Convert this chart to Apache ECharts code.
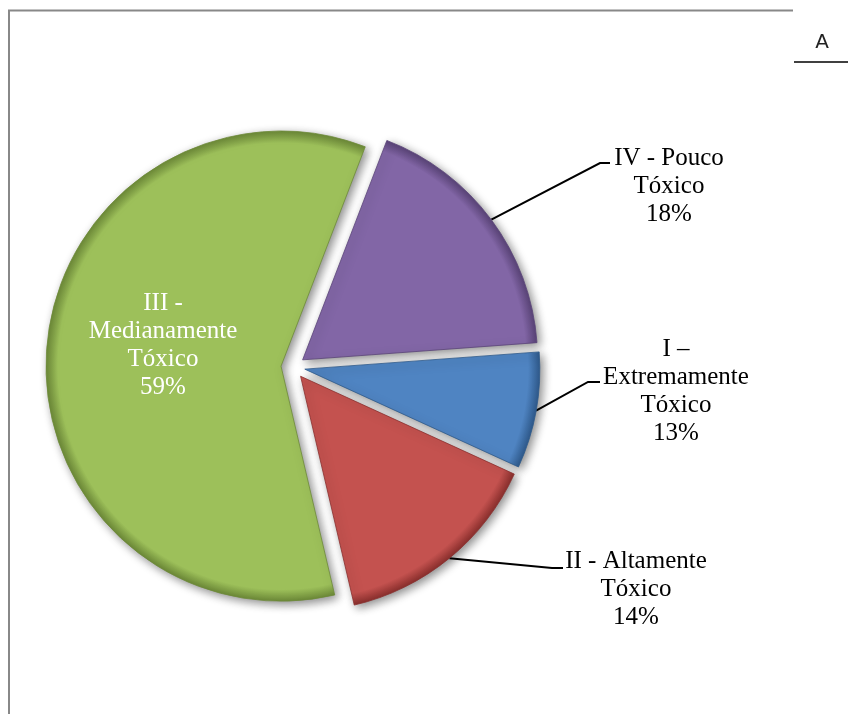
<!DOCTYPE html>
<html>
<head>
<meta charset="utf-8">
<script src="https://cdn.jsdelivr.net/npm/echarts@6/dist/echarts.min.js"></script>
<style>
html,body{margin:0;padding:0;background:#fff;}
#chart{width:848px;height:714px;}
</style>
</head>
<body>
<div id="chart"></div>
<script>
// Categories in clockwise drawing order
const categories = ['IV - Pouco Tóxico', 'I – Extremamente Tóxico', 'II - Altamente Tóxico', 'III - Medianamente Tóxico'];
// Label text lines (as printed on the chart)
const labelTexts = [['IV - Pouco', 'Tóxico'], ['I –', 'Extremamente', 'Tóxico'], ['II - Altamente', 'Tóxico'], ['III -', 'Medianamente', 'Tóxico']];
// Slice sizes as drawn
const sliceValues = [18, 8, 14.5, 59.5];
// Percent labels as printed
const percentLabels = ['18%', '13%', '14%', '59%'];
const sliceColors = ['#8266A6', '#4F84C2', '#C4524F', '#9DC05A'];
const rimColors = ['#5a4478', '#2f5a8c', '#8a2f2d', '#6d8a38'];

// label placement: [x, y, bendX, bendY, endX]
const labelPlace = [
  [669, 186, 600, 163, 610],
  [676, 391, 588, 382, 600],
  [636, 589, 552, 568, 563],
  [163, 345]
];

const CX = 293, CY = 367, R = 235, EXPLODE = 12;

const chart = echarts.init(document.getElementById('chart'));

function rimGradient(i) {
  return {
    type: 'radial', x: CX, y: CY, r: R, global: true,
    colorStops: [
      {offset: 0, color: sliceColors[i]},
      {offset: 0.95, color: sliceColors[i]},
      {offset: 1, color: rimColors[i]}
    ]
  };
}

const pieData = categories.map((c, i) => ({
  name: c,
  value: sliceValues[i],
  selected: true,
  itemStyle: {color: rimGradient(i), borderColor: rimColors[i]}
}));

const labelData = categories.map((c, i) => ({
  name: c,
  value: sliceValues[i],
  label: i === 3 ? {position: 'inside', color: '#ffffff'} : {position: 'outside', color: '#000000'},
  labelLine: {show: i !== 3}
}));

chart.setOption({
  animation: false,
  graphic: [
    {type: 'line', shape: {x1: 8, y1: 10.5, x2: 793, y2: 10.5}, style: {stroke: '#888888', lineWidth: 2}},
    {type: 'line', shape: {x1: 9, y1: 10, x2: 9, y2: 714}, style: {stroke: '#888888', lineWidth: 2}},
    {type: 'text', x: 822, y: 43, style: {text: 'A', fontFamily: 'DejaVu Sans', fontSize: 20, fill: '#222', align: 'center', verticalAlign: 'middle'}},
    {type: 'line', shape: {x1: 794, y1: 62, x2: 848, y2: 62}, style: {stroke: '#000000', lineWidth: 1.5}}
  ],
  series: [{
    type: 'pie',
    center: [CX, CY],
    radius: R,
    startAngle: 69,
    clockwise: true,
    selectedMode: 'multiple',
    selectedOffset: EXPLODE,
    emphasis: {disabled: true},
    label: {show: false},
    labelLine: {show: false},
    itemStyle: {
      borderWidth: 0.8,
      shadowBlur: 10,
      shadowColor: 'rgba(0,0,0,0.45)',
      shadowOffsetX: 3,
      shadowOffsetY: 3
    },
    data: pieData
  }, {
    type: 'pie',
    center: [CX, CY],
    radius: R,
    startAngle: 69,
    clockwise: true,
    silent: true,
    emphasis: {disabled: true},
    itemStyle: {color: 'rgba(0,0,0,0)', borderWidth: 0},
    label: {
      fontFamily: 'Liberation Serif',
      fontSize: 25,
      lineHeight: 28,
      align: 'center',
      formatter: p => labelTexts[p.dataIndex].join('\n') + '\n' + percentLabels[p.dataIndex]
    },
    labelLine: {
      lineStyle: {color: '#000000', width: 2},
      length: 20, length2: 10
    },
    labelLayout: function (params) {
      const p = labelPlace[params.dataIndex];
      const res = {x: p[0], y: p[1], align: 'center', verticalAlign: 'middle'};
      if (p.length > 2 && params.labelLinePoints) {
        const s = params.labelLinePoints[0];
        const dx = s[0] - CX, dy = s[1] - CY;
        const len = Math.sqrt(dx * dx + dy * dy) || 1;
        const start = [s[0] + dx / len * EXPLODE, s[1] + dy / len * EXPLODE];
        res.labelLinePoints = [start, [p[2], p[3]], [p[4], p[3]]];
      }
      return res;
    },
    data: labelData
  }]
});
</script>
</body>
</html>
